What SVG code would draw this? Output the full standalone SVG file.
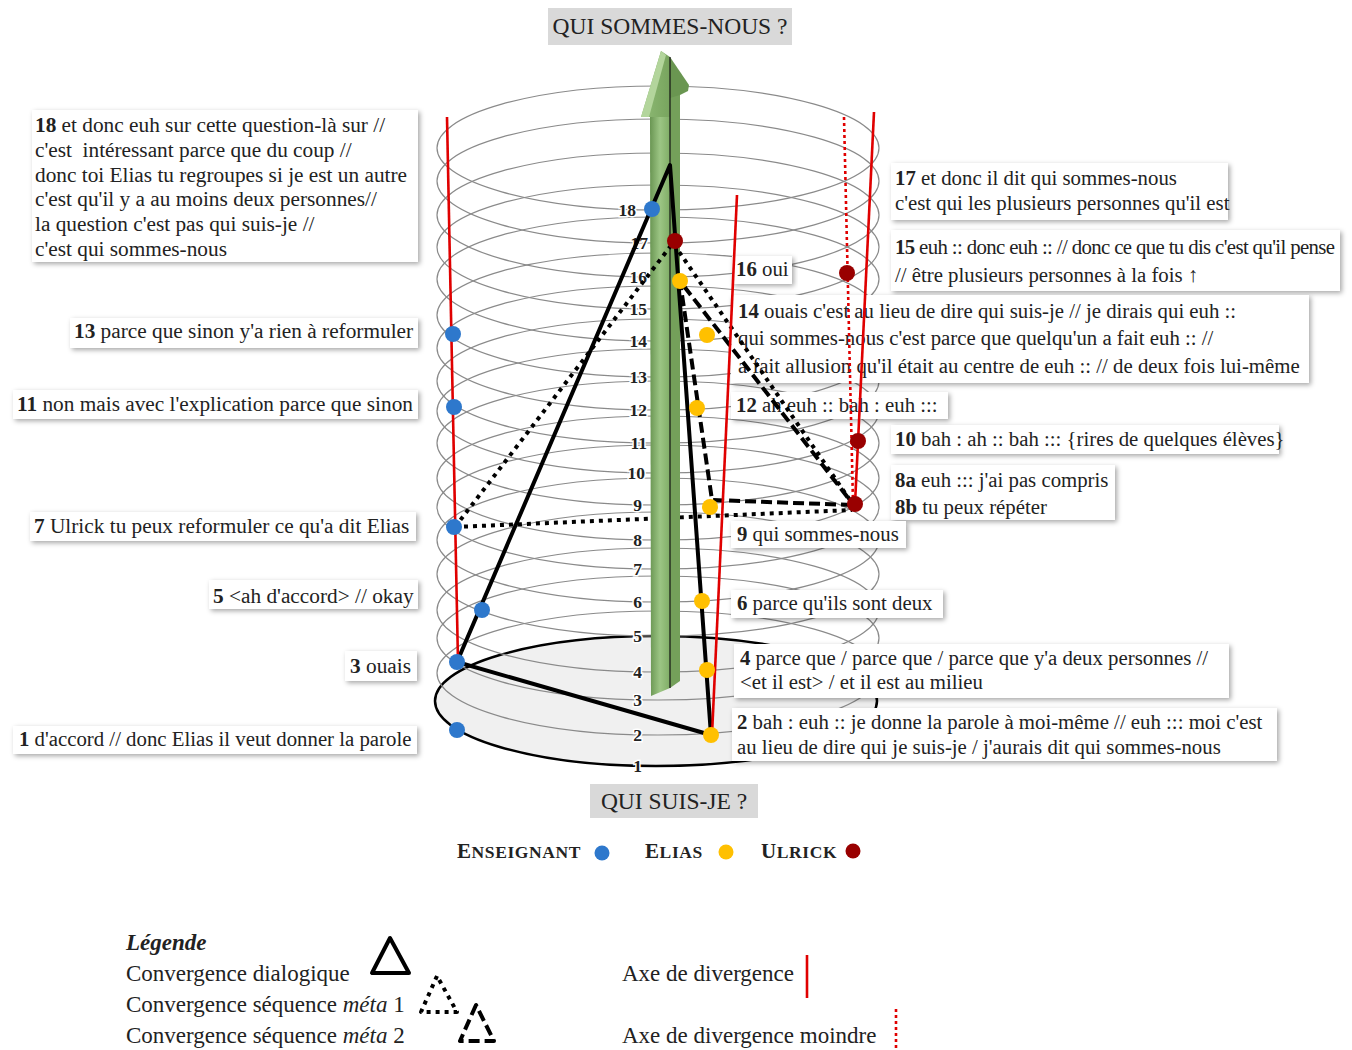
<svg xmlns="http://www.w3.org/2000/svg" width="1352" height="1050" viewBox="0 0 1352 1050">
<defs>
<filter id="sh" x="-10%" y="-30%" width="120%" height="160%">
<feDropShadow dx="2" dy="2" stdDeviation="2.5" flood-color="#000" flood-opacity="0.35"/>
</filter>
<linearGradient id="shaftL" x1="0" y1="0" x2="1" y2="0">
<stop offset="0" stop-color="#6a9653"/>
<stop offset="0.5" stop-color="#9cc584"/>
<stop offset="1" stop-color="#80ad66"/>
</linearGradient>
<linearGradient id="headL" x1="0" y1="0" x2="1" y2="0">
<stop offset="0" stop-color="#8fbb76"/>
<stop offset="1" stop-color="#78a45e"/>
</linearGradient>
<style>
text{font-family:"Liberation Serif","Times New Roman",serif;fill:#222}
.bx{fill:#fff;filter:url(#sh)}
.t{font-size:20.8px}
.tl{font-size:21.3px}
.b{font-weight:bold}
.hx{fill:none;stroke:#8a8a8a;stroke-width:1.2}
.lvl{font-size:17.5px;font-weight:bold;text-anchor:end;stroke:#fff;stroke-width:3;paint-order:stroke;fill:#222}
.tri{fill:none;stroke:#000;stroke-width:4;stroke-linejoin:round}
.dot{stroke-dasharray:4 5}
.dash{stroke-dasharray:11 5}
.red{stroke:#e00000;stroke-width:2.6;fill:none}
.redd{stroke:#e00000;stroke-width:2.6;fill:none;stroke-dasharray:3 3}
.ens{fill:#2e78cc}
.eli{fill:#ffc000}
.ulr{fill:#990000}
.ttl{fill:#d9d9d9}
.tt{font-size:23.5px;text-anchor:middle}
.lg{font-size:23px}
</style>
</defs>
<rect width="1352" height="1050" fill="#fff"/>

<g id="helix">
<ellipse cx="656" cy="701" rx="221" ry="65" fill="#f0f0f0" stroke="#000" stroke-width="2.5"/>
<ellipse class="hx" cx="658" cy="673" rx="221" ry="62"/>
<ellipse class="hx" cx="658" cy="638" rx="221" ry="62"/>
<ellipse class="hx" cx="658" cy="610" rx="221" ry="62"/>
<ellipse class="hx" cx="658" cy="574" rx="221" ry="62"/>
<ellipse class="hx" cx="658" cy="540" rx="221" ry="62"/>
<ellipse class="hx" cx="658" cy="507" rx="221" ry="62"/>
<ellipse class="hx" cx="658" cy="478" rx="221" ry="62"/>
<ellipse class="hx" cx="658" cy="443" rx="221" ry="62"/>
<ellipse class="hx" cx="658" cy="411" rx="221" ry="62"/>
<ellipse class="hx" cx="658" cy="381" rx="221" ry="62"/>
<ellipse class="hx" cx="658" cy="348" rx="221" ry="62"/>
<ellipse class="hx" cx="658" cy="315" rx="221" ry="62"/>
<ellipse class="hx" cx="658" cy="279" rx="221" ry="62"/>
<ellipse class="hx" cx="658" cy="247" rx="221" ry="62"/>
<ellipse class="hx" cx="658" cy="215" rx="221" ry="62"/>
<ellipse class="hx" cx="658" cy="181" rx="221" ry="62"/>
<ellipse class="hx" cx="658" cy="148" rx="221" ry="62"/>
</g>

<g id="level-labels">
<text class="lvl" x="642" y="772">1</text>
<text class="lvl" x="642" y="741">2</text>
<text class="lvl" x="642" y="706">3</text>
<text class="lvl" x="642" y="678">4</text>
<text class="lvl" x="642" y="642">5</text>
<text class="lvl" x="642" y="608">6</text>
<text class="lvl" x="642" y="575">7</text>
<text class="lvl" x="642" y="546">8</text>
<text class="lvl" x="642" y="511">9</text>
<text class="lvl" x="645" y="479">10</text>
<text class="lvl" x="647" y="449">11</text>
<text class="lvl" x="647" y="416">12</text>
<text class="lvl" x="647" y="383">13</text>
<text class="lvl" x="647" y="347">14</text>
<text class="lvl" x="647" y="315">15</text>
<text class="lvl" x="647" y="283">16</text>
<text class="lvl" x="648" y="249">17</text>
<text class="lvl" x="636" y="216">18</text>
</g>

<g id="meta1-base">
<line class="tri dot" x1="455" y1="527" x2="852" y2="510"/>
</g>

<g id="axis-arrow">
<polygon points="650,116 670,116 670,688 651,696" fill="url(#shaftL)"/>
<polygon points="670,96 680,93 680,681 670,688" fill="#74a05a"/>
<polygon points="661,51 670,57 670,117 641,117" fill="url(#headL)"/>
<polygon points="661,51 666,55 649,117 641,117" fill="#b3d59c"/>
<polygon points="670,57 689,85 688,91 680,95 670,98" fill="#6a9651"/>
<line x1="670" y1="57" x2="670" y2="688" stroke="#111" stroke-width="1.2"/>
</g>

<g id="box-18">
<rect class="bx" x="32" y="110" width="386" height="152"/>
<text class="tl" x="35" y="132"><tspan class="b">18</tspan> et donc euh sur cette question-là sur //</text>
<text class="tl" x="35" y="157">c'est&#160; intéressant parce que du coup //</text>
<text class="tl" x="35" y="182">donc toi Elias tu regroupes si je est un autre</text>
<text class="tl" x="35" y="206">c'est qu'il y a au moins deux personnes//</text>
<text class="tl" x="35" y="231">la question c'est pas qui suis-je //</text>
<text class="tl" x="35" y="256">c'est qui sommes-nous</text>
</g>
<g id="box-13">
<rect class="bx" x="70" y="318" width="348" height="30"/>
<text class="tl" x="74" y="338"><tspan class="b">13</tspan> parce que sinon y'a rien à reformuler</text>
</g>
<g id="box-11">
<rect class="bx" x="13" y="390" width="405" height="29"/>
<text class="tl" x="17" y="411"><tspan class="b">11</tspan> non mais avec l'explication parce que sinon</text>
</g>
<g id="box-7">
<rect class="bx" x="30" y="512" width="386" height="29"/>
<text class="tl" x="34" y="533"><tspan class="b">7</tspan> Ulrick tu peux reformuler ce qu'a dit Elias</text>
</g>
<g id="box-5">
<rect class="bx" x="209" y="580" width="209" height="29"/>
<text class="tl" x="213" y="603"><tspan class="b">5</tspan> &lt;ah d'accord&gt; // okay</text>
</g>
<g id="box-3">
<rect class="bx" x="345" y="651" width="72" height="30"/>
<text class="tl" x="350" y="673"><tspan class="b">3</tspan> ouais</text>
</g>
<g id="box-1">
<rect class="bx" x="13" y="726" width="404" height="28"/>
<text class="t" x="19" y="746"><tspan class="b">1</tspan> d'accord // donc Elias il veut donner la parole</text>
</g>

<g id="box-17">
<rect class="bx" x="891" y="163" width="337" height="57"/>
<text class="t" x="895" y="185"><tspan class="b">17</tspan> et donc il dit qui sommes-nous</text>
<text class="t" x="895" y="210">c'est qui les plusieurs personnes qu'il est</text>
</g>
<g id="box-15">
<rect class="bx" x="891" y="230" width="449" height="61"/>
<text class="t" x="895" y="254" textLength="440" lengthAdjust="spacing"><tspan class="b">15</tspan> euh :: donc euh :: // donc ce que tu dis c'est qu'il pense</text>
<text class="t" x="895" y="282">// être plusieurs personnes à la fois ↑</text>
</g>
<g id="box-16">
<rect class="bx" x="732" y="256" width="60" height="28"/>
<text class="t" x="736" y="276"><tspan class="b">16</tspan> oui</text>
</g>
<g id="box-14">
<rect class="bx" x="731" y="295" width="578" height="88"/>
<text class="t" x="738" y="318"><tspan class="b">14</tspan> ouais c'est au lieu de dire qui suis-je // je dirais qui euh ::</text>
<text class="t" x="738" y="345">qui sommes-nous c'est parce que quelqu'un a fait euh :: //</text>
<text class="t" x="738" y="373">a fait allusion qu'il était au centre de euh :: // de deux fois lui-même</text>
</g>
<g id="box-12">
<rect class="bx" x="731" y="392" width="217" height="27"/>
<text class="t" x="736" y="412"><tspan class="b">12</tspan> ah euh :: bah : euh :::</text>
</g>
<g id="box-10">
<rect class="bx" x="891" y="425" width="388" height="29"/>
<text class="t" x="895" y="446"><tspan class="b">10</tspan> bah : ah :: bah ::: {rires de quelques élèves}</text>
</g>
<g id="box-8">
<rect class="bx" x="891" y="465" width="224" height="55"/>
<text class="t" x="895" y="487"><tspan class="b">8a</tspan> euh ::: j'ai pas compris</text>
<text class="t" x="895" y="514"><tspan class="b">8b</tspan> tu peux répéter</text>
</g>
<g id="box-9">
<rect class="bx" x="731" y="521" width="175" height="27"/>
<text class="t" x="737" y="541"><tspan class="b">9</tspan> qui sommes-nous</text>
</g>
<g id="box-6">
<rect class="bx" x="731" y="590" width="212" height="28"/>
<text class="t" x="737" y="610"><tspan class="b">6</tspan> parce qu'ils sont deux</text>
</g>
<g id="box-4">
<rect class="bx" x="734" y="644" width="495" height="54"/>
<text class="t" x="740" y="665"><tspan class="b">4</tspan> parce que / parce que / parce que y'a deux personnes //</text>
<text class="t" x="740" y="689">&lt;et il est&gt; / et il est au milieu</text>
</g>
<g id="box-2">
<rect class="bx" x="732" y="708" width="545" height="53"/>
<text class="t" x="737" y="729"><tspan class="b">2</tspan> bah : euh :: je donne la parole à moi-même // euh ::: moi c'est</text>
<text class="t" x="737" y="754">au lieu de dire qui je suis-je / j'aurais dit qui sommes-nous</text>
</g>

<g id="connectors">
<polyline class="tri" points="457,662 670,165 711,735 457,662"/>
<polyline class="tri dot" points="455,527 673,243 852,503"/>
<polyline class="tri dash" points="852,505 712,500 680,281 852,503"/>
<line class="red" x1="447" y1="117" x2="458" y2="662"/>
<line class="red" x1="737" y1="195" x2="712" y2="735"/>
<line class="red" x1="874" y1="112" x2="855" y2="504"/>
<line class="redd" x1="844" y1="117" x2="853" y2="503"/>
</g>

<g id="dots">
<circle class="ens" cx="652" cy="209" r="8"/>
<circle class="ens" cx="453" cy="334" r="8"/>
<circle class="ens" cx="454" cy="407" r="8"/>
<circle class="ens" cx="454" cy="527" r="8"/>
<circle class="ens" cx="482" cy="610" r="8"/>
<circle class="ens" cx="457" cy="662" r="8"/>
<circle class="ens" cx="457" cy="730" r="8"/>
<circle class="eli" cx="680" cy="281" r="8"/>
<circle class="eli" cx="707" cy="335" r="8"/>
<circle class="eli" cx="697" cy="408" r="8"/>
<circle class="eli" cx="710" cy="507" r="8"/>
<circle class="eli" cx="702" cy="601" r="8"/>
<circle class="eli" cx="707" cy="670" r="8"/>
<circle class="eli" cx="711" cy="735" r="8"/>
<circle class="ulr" cx="675" cy="241" r="8"/>
<circle class="ulr" cx="847" cy="273" r="8"/>
<circle class="ulr" cx="858" cy="441" r="8"/>
<circle class="ulr" cx="855" cy="504" r="8"/>
</g>

<g id="title-top">
<rect class="ttl" x="548" y="8" width="244" height="37"/>
<text class="tt" x="670" y="34">QUI SOMMES-NOUS ?</text>
</g>
<g id="title-bottom">
<rect class="ttl" x="590" y="784" width="168" height="34"/>
<text class="tt" x="674" y="809">QUI SUIS-JE ?</text>
</g>

<g id="legend-speakers">
<text x="457" y="858" font-weight="bold" letter-spacing="0.6"><tspan font-size="21">E</tspan><tspan font-size="17.5">NSEIGNANT</tspan></text>
<circle class="ens" cx="602" cy="853" r="7.5"/>
<text x="645" y="858" font-weight="bold" letter-spacing="0.6"><tspan font-size="21">E</tspan><tspan font-size="17.5">LIAS</tspan></text>
<circle class="eli" cx="726" cy="852" r="7.5"/>
<text x="761" y="858" font-weight="bold" letter-spacing="0.6"><tspan font-size="21">U</tspan><tspan font-size="17.5">LRICK</tspan></text>
<circle class="ulr" cx="853" cy="851" r="7.5"/>
</g>

<g id="legend">
<text class="lg" x="126" y="950" font-weight="bold" font-style="italic">Légende</text>
<text class="lg" x="126" y="981">Convergence dialogique</text>
<text class="lg" x="126" y="1012">Convergence séquence <tspan font-style="italic">méta</tspan> 1</text>
<text class="lg" x="126" y="1043">Convergence séquence <tspan font-style="italic">méta</tspan> 2</text>
<polygon class="tri" points="390,938 372,973 409,973" stroke-width="4.5"/>
<polygon class="tri dot" points="437,976 421,1012 457,1012" stroke-dasharray="3.5 4"/>
<polygon class="tri dash" points="476,1005 460,1041 494,1041" stroke-dasharray="9 5"/>
<text class="lg" x="622" y="981">Axe de divergence</text>
<line class="red" x1="807" y1="955" x2="807" y2="998"/>
<text class="lg" x="622" y="1043">Axe de divergence moindre</text>
<line class="redd" x1="896" y1="1009" x2="896" y2="1050"/>
</g>
</svg>
